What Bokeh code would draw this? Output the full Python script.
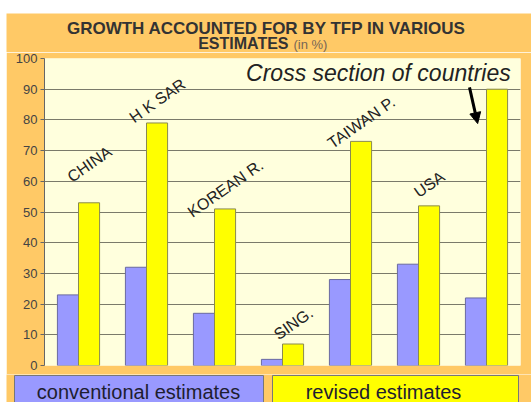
import numpy as np
from bokeh.plotting import figure
from bokeh.models import Range1d, FixedTicker, Arrow, NormalHead, Spacer
from bokeh.layouts import row, column
from bokeh.core.properties import value
from bokeh.embed import file_html
from bokeh.resources import INLINE

# ---- data ----
countries = ["CHINA", "H K SAR", "KOREAN R.", "SING.", "TAIWAN P.", "USA", "Cross section of countries"]
conventional = [23, 32, 17, 2, 28, 33, 22]
revised = [53, 79, 51, 7, 73, 52, 90]
y_ticks = [0, 10, 20, 30, 40, 50, 60, 70, 80, 90, 100]
series_names = ["conventional estimates", "revised estimates"]
title_line1 = "GROWTH ACCOUNTED FOR BY TFP IN VARIOUS"
title_line2a = "ESTIMATES"
title_line2b = "(in %)"

# ---- layout (label placement) ----
label_y = [65.6, 86.3, 57.7, 13.7, 79.2, 59.0]

ORANGE = "#FFC966"
CREAM = "#FFFFDD"
BLUE = "#9999FF"
YELLOW = "#FFFF00"
FONT = value("Liberation Sans")
W = 525

# header with the title
hdr = figure(width=W, height=39, x_range=Range1d(0, W), y_range=Range1d(0, 39),
             output_backend="svg", toolbar_location=None, frame_align=False,
             x_axis_type=None, y_axis_type=None, min_border=0)
hdr.grid.visible = False
hdr.outline_line_color = None
hdr.background_fill_color = ORANGE
hdr.border_fill_color = ORANGE
hdr.text(x=[260], y=[24], text=[title_line1], text_font=FONT, text_font_style="bold",
         text_font_size="17px", text_color="#333333", text_align="center", text_baseline="middle")
hdr.text(x=[282], y=[9], text=[title_line2a], text_font=FONT, text_font_style="bold",
         text_font_size="16px", text_color="#333333", text_align="right", text_baseline="middle")
hdr.text(x=[287], y=[8.5], text=[title_line2b], text_font=FONT,
         text_font_size="13px", text_color="#776655", text_align="left", text_baseline="middle")

# main plot
n = len(countries)
xc = np.arange(n) + 0.5
p = figure(width=W, height=322, x_range=Range1d(0, n), y_range=Range1d(0, 100),
           output_backend="svg", toolbar_location=None, frame_align=False,
           min_border_left=38, min_border_right=11, min_border_top=6, min_border_bottom=9)
p.background_fill_color = CREAM
p.border_fill_color = ORANGE
p.outline_line_color = None
p.xaxis.visible = False
p.xgrid.visible = False
p.ygrid.grid_line_color = "#7a7a6a"
p.ygrid.grid_line_width = 1
p.yaxis.ticker = FixedTicker(ticks=y_ticks)
p.yaxis.minor_tick_line_color = None
p.yaxis.major_tick_out = 4
p.yaxis.major_tick_in = 0
p.yaxis.axis_line_color = "#666666"
p.yaxis.major_tick_line_color = "#666666"
p.yaxis.major_label_text_font = "Liberation Sans"
p.yaxis.major_label_text_font_size = "13px"
p.yaxis.major_label_text_color = "#444444"
p.yaxis.major_label_standoff = 3

bw = 0.31
p.vbar(x=xc - bw / 2, top=conventional, width=bw, fill_color=BLUE, line_color="#6a6aa0", line_width=1)
p.vbar(x=xc + bw / 2, top=revised, width=bw, fill_color=YELLOW, line_color="#8a8a50", line_width=1)

p.text(x=list(xc[:6] + 0.16), y=label_y, text=countries[:6], angle=0.61,
       text_font=FONT, text_font_size="16px", text_color="#222222",
       text_align="center", text_baseline="middle")
p.text(x=[4.91], y=[95.4], text=[countries[6]], text_font=FONT, text_font_style="italic",
       text_font_size="23px", text_color="#222222", text_align="center", text_baseline="middle")
p.add_layout(Arrow(end=NormalHead(size=11, fill_color="black", line_color="black"),
                   x_start=6.25, y_start=90.6, x_end=6.37, y_end=78.8,
                   line_width=3, line_color="black"))

# legend strip
lg = figure(width=W, height=28, x_range=Range1d(0, W), y_range=Range1d(0, 28),
            output_backend="svg", toolbar_location=None, frame_align=False,
            x_axis_type=None, y_axis_type=None, min_border=0)
lg.grid.visible = False
lg.outline_line_color = None
lg.background_fill_color = ORANGE
lg.border_fill_color = ORANGE
lg.quad(left=[8, 266], right=[257, 512], bottom=[-5, -5], top=[27, 27],
        fill_color=[BLUE, YELLOW], line_color="#777777", line_width=1)
lg.text(x=[132, 377], y=[11, 11], text=series_names, text_font=FONT,
        text_font_size="20px", text_color="#1e1e30", text_align="center", text_baseline="middle")

layout = row(Spacer(width=6), column(Spacer(height=13), hdr, p, lg, spacing=0), spacing=0)
open("out.html", "w").write(file_html(layout, INLINE))
